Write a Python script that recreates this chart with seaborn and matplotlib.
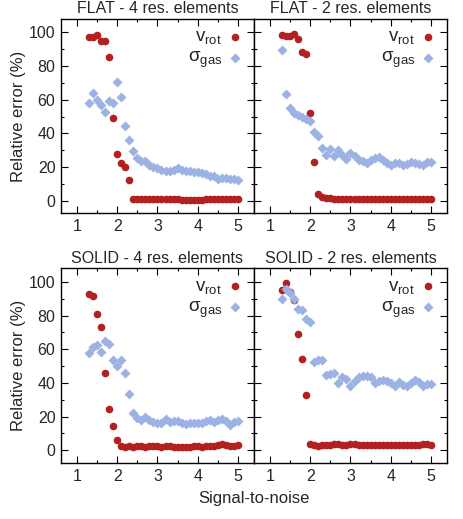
import numpy as np
import pandas as pd
import matplotlib
matplotlib.use("Agg")
import matplotlib.pyplot as plt
from matplotlib.ticker import MultipleLocator
import seaborn as sns

# valores
sn = [1.3, 1.4, 1.5, 1.6, 1.7, 1.8, 1.9, 2.0, 2.1, 2.2, 2.3, 2.4, 2.5, 2.6, 2.7, 2.8, 2.9,
      3.0, 3.1, 3.2, 3.3, 3.4, 3.5, 3.6, 3.7, 3.8, 3.9, 4.0, 4.1, 4.2, 4.3, 4.4, 4.5, 4.6,
      4.7, 4.8, 4.9, 5.0]

flat4_vrot = [97.5, 97.5, 98.3, 95.2, 95.0, 85.5, 49.0, 28.0, 22.5, 20.0, 12.2, 1.3, 1.0,
              1.0, 0.9, 1.0, 0.9, 0.9, 0.8, 0.9, 0.8, 0.8, 0.8, 0.7, 0.7, 0.7, 0.5, 0.5,
              0.7, 0.8, 0.8, 0.9, 1.0, 1.0, 1.2, 1.2, 1.3, 1.2]
flat4_sigma = [58.4, 64.0, 60.0, 57.0, 53.0, 59.5, 58.3, 70.5, 61.5, 44.5, 36.0, 29.4, 25.4,
               23.8, 23.5, 21.0, 20.0, 19.5, 18.5, 18.0, 18.0, 18.2, 19.5, 18.3, 17.8, 17.5,
               17.0, 17.0, 16.3, 15.8, 15.0, 14.5, 13.0, 13.3, 13.5, 13.0, 13.0, 12.5]

flat2_vrot = [98.5, 98.0, 97.8, 98.8, 96.3, 88.5, 87.5, 52.0, 23.0, 3.8, 2.0, 1.6, 1.5,
              1.3, 1.2, 1.0, 0.8, 0.8, 0.9, 0.9, 0.8, 0.9, 0.9, 1.0, 0.9, 0.9, 0.8, 0.9,
              0.9, 0.9, 1.0, 0.9, 0.9, 0.9, 0.9, 0.9, 0.9, 0.9]
flat2_sigma = [89.3, 63.3, 55.4, 52.0, 51.0, 49.7, 48.7, 47.7, 40.7, 38.8, 31.4, 27.4, 30.8,
               26.4, 30.4, 27.4, 24.8, 28.4, 26.4, 24.4, 23.5, 22.5, 24.4, 25.4, 26.0, 24.4,
               22.5, 21.5, 22.5, 22.5, 21.3, 22.0, 22.9, 22.5, 22.0, 21.3, 22.9, 23.3]

solid4_vrot = [92.7, 91.7, 81.2, 73.3, 45.7, 24.8, 14.4, 5.9, 2.5, 2.2, 2.5, 2.0, 2.8, 2.3,
               1.8, 2.5, 2.8, 2.5, 2.2, 2.8, 2.5, 2.0, 1.8, 1.8, 2.2, 2.0, 2.3, 2.5, 2.2,
               2.4, 2.6, 2.8, 3.2, 4.0, 3.0, 2.5, 2.6, 3.0]
solid4_sigma = [57.6, 61.6, 62.4, 58.4, 64.9, 63.4, 53.7, 50.1, 53.7, 45.7, 33.3, 22.3,
                19.4, 18.0, 20.0, 18.0, 16.8, 16.4, 16.4, 18.4, 16.8, 17.4, 17.4, 16.4,
                15.8, 16.4, 16.4, 16.0, 16.0, 17.4, 18.0, 16.8, 18.0, 18.8, 17.4, 14.8,
                16.8, 17.4]

solid2_vrot = [95.1, 99.2, 94.0, 89.0, 69.3, 54.1, 32.7, 3.5, 3.2, 2.6, 3.0, 3.3, 3.2, 3.5,
               3.8, 3.3, 3.2, 3.6, 3.5, 3.3, 3.4, 3.3, 3.2, 3.3, 3.4, 3.3, 3.2, 3.3, 3.1,
               3.0, 3.2, 3.3, 3.2, 3.0, 3.3, 3.5, 3.5, 3.4]
solid2_sigma = [90.1, 96.0, 93.3, 89.7, 84.2, 83.4, 77.8, 76.4, 52.5, 53.7, 53.5, 44.6,
                45.2, 45.8, 39.8, 43.8, 42.2, 38.5, 41.0, 43.5, 44.0, 44.0, 43.5, 40.0,
                41.0, 42.0, 41.0, 40.0, 38.5, 40.5, 39.0, 38.5, 40.0, 42.0, 40.5, 38.5,
                39.5, 39.5]

titulos = ["FLAT - 4 res. elements", "FLAT - 2 res. elements",
           "SOLID - 4 res. elements", "SOLID - 2 res. elements"]
series = [(flat4_vrot, flat4_sigma), (flat2_vrot, flat2_sigma),
          (solid4_vrot, solid4_sigma), (solid2_vrot, solid2_sigma)]

rojo = "#b2201f"
azul = "#9db2e4"

sns.set_style("ticks")
plt.rcParams["font.family"] = ["Liberation Sans", "DejaVu Sans"]
plt.rcParams["mathtext.fontset"] = "dejavusans"

fig, axes = plt.subplots(2, 2, figsize=(4.63, 5.19), dpi=100)
plt.subplots_adjust(left=0.1317, right=0.9654, bottom=0.108, top=0.9634,
                    wspace=0, hspace=0.283)

for i, ax in enumerate(axes.flat):
    vrot, sigma = series[i]
    sns.scatterplot(x=sn, y=vrot, ax=ax, color=rojo, marker="o", s=30,
                    linewidth=0, label=r"$\mathregular{v_{rot}}$")
    sns.scatterplot(x=sn, y=sigma, ax=ax, color=azul, marker="D", s=26,
                    linewidth=0, label=r"$\mathregular{\sigma_{gas}}$")
    ax.set_xlim(0.6, 5.4)
    ax.set_ylim(-7.5, 108)
    ax.set_xticks([1, 2, 3, 4, 5])
    ax.set_yticks([0, 20, 40, 60, 80, 100])
    ax.xaxis.set_minor_locator(MultipleLocator(0.5))
    ax.yaxis.set_minor_locator(MultipleLocator(10))
    ax.tick_params(which="both", direction="in", top=True, right=True,
                   labelsize=11.5, width=0.8, color="black")
    ax.tick_params(which="major", length=5, pad=4)
    ax.tick_params(which="minor", length=2.5)
    for sp in ax.spines.values():
        sp.set_linewidth(1.0)
        sp.set_color("black")
    ax.set_title(titulos[i], fontsize=11.5, pad=4)
    if i % 2 == 0:
        ax.set_ylabel("Relative error (%)", fontsize=12, labelpad=2)
    else:
        ax.set_yticklabels([])
        ax.set_ylabel("")
    ax.legend(loc="upper right", frameon=False, markerfirst=False, fontsize=13.5,
              handletextpad=0.2, borderaxespad=0.1, labelspacing=0.15,
              handlelength=1.0)

fig.text(0.5486, 1 - 498 / 519, "Signal-to-noise", ha="center", va="center",
         fontsize=12)

plt.savefig("out.png", dpi=100)
